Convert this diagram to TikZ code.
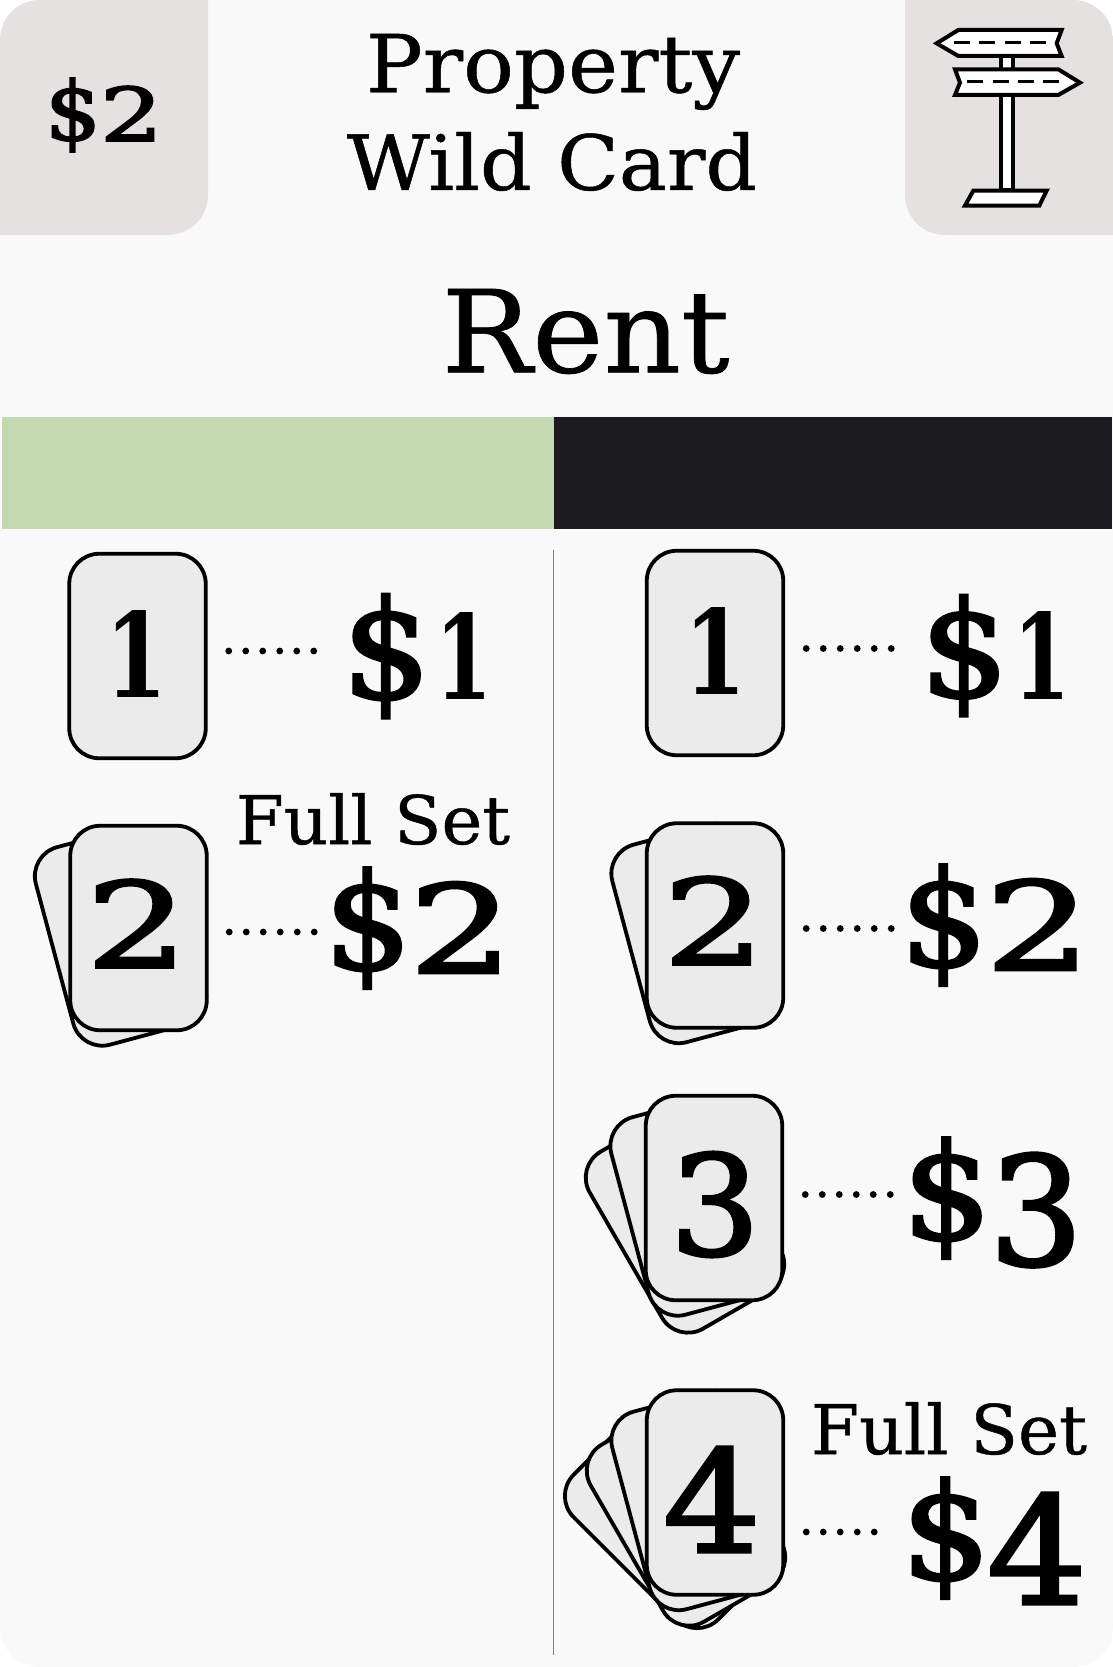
\documentclass[tikz,border=0pt]{standalone}
\usepackage{fontspec}
\setmainfont[FakeBold=0.6]{DejaVu Serif}
\newfontfamily\heavyfont[FakeBold=2.2]{DejaVu Serif}
\newfontfamily\onefont{DejaVu Serif}
\definecolor{paper}{HTML}{F9F9F9}
\definecolor{corner}{HTML}{E5E1E1}
\definecolor{cardfill}{HTML}{EBEBEB}
\definecolor{leafgreen}{HTML}{C4D8B2}
\definecolor{ink}{HTML}{1B1B1F}
\newcommand\fitt[3]{\resizebox*{#1pt}{#2pt}{#3}}
\newcommand\amt[7]{\resizebox*{#1pt}{#2pt}{\heavyfont\$}\kern#3pt\raisebox{#6pt}{\resizebox{#4pt}{#5pt}{\heavyfont #7}}}
\newcommand\digit[3]{\resizebox*{#1pt}{#2pt}{\heavyfont #3}}
\newcommand\oneglyph{{\onefont\bfseries 1}}
\tikzset{
  cardbox/.style={draw=black,line width=3.8pt,fill=cardfill,rounded corners=30pt,
    minimum width=136.5pt,minimum height=204.5pt,inner sep=0pt,outer sep=0pt},
  label/.style={inner sep=0pt,outer sep=0pt,text=black},
  amount/.style={anchor=base west,inner sep=0pt,outer sep=0pt,text=black},
  dotline/.style={line width=6.8pt,line cap=round,dash pattern=on 0pt off 17pt,draw=black},
  signline/.style={draw=black,line width=4pt,fill=white,line join=miter},
  signdash/.style={draw=black,line width=2.7pt,dash pattern=on 16pt off 9.3pt}
}
\begin{document}
\begin{tikzpicture}[x=1pt,y=-1pt]
\useasboundingbox (0,0) rectangle (1113,1667);
\fill[white] (0,0) rectangle (1113,1667);
\begin{scope}
\clip[rounded corners=40pt] (0,0) rectangle (1113,1667);
\fill[paper] (0,0) rectangle (1113,1667);
\fill[corner,rounded corners=40pt] (-60,-60) rectangle (208,235);
\fill[corner,rounded corners=40pt] (905,-60) rectangle (1173,235);
\end{scope}
\fill[leafgreen] (2,417) rectangle (554,529);
\fill[ink] (554,417) rectangle (1111.5,529);
\draw[draw=gray,line width=1pt] (553.5,550) -- (553.5,1655);

% header text
\node[amount] (price) at (45,140) {\amt{56}{74}{-1}{63}{55}{-1}{2}};
\node[label] (t1) at (553,72) {\fitt{374}{76}{Property}};
\node[label] (t2) at (552,161.5) {\fitt{410}{59}{Wild Card}};
\node[label] (rent) at (585.5,331.5) {\fitt{288}{85}{Rent}};

% sign icon
\begin{scope}[shift={(880,0)},x=0.3333pt,y=-0.3333pt]
\draw[signline] (362,160) rectangle (400,570);
\draw[signline] (170,130) -- (235,90) -- (545,90) -- (530,130) -- (545,168) -- (235,168) -- cycle;
\draw[signline] (225,208) -- (535,208) -- (600,248) -- (535,285) -- (225,285) -- (240,248) -- cycle;
\draw[signline] (280,572) -- (500,572) -- (478,617) -- (255,617) -- cycle;
\draw[signdash] (222,128) -- (505,128);
\draw[signdash] (262,245) -- (545,245);
\end{scope}

% left column
\node[cardbox] (cL1) at (137.5,656) {};
\node[label] (dL1) at (137,654) {\digit{62}{87}{\oneglyph}};
\node[amount] (aL1) at (342,698) {\amt{89}{124}{4}{57}{87}{-1}{\oneglyph}};
\draw[dotline] ([shift={(23,-5)}]cL1.east) coordinate (sL1) -- ([xshift=-23pt]sL1 -| aL1.west);

\node[cardbox,rotate=15] (cL2b) at (120.5,936) {};
\node[cardbox] (cL2) at (138.5,928) {};
\node[label] (dL2) at (137,923.5) {\digit{102}{88}{2}};
\node[amount] (aL2) at (324,969) {\amt{88}{121}{-3}{104}{91}{-4}{2}};
\draw[dotline] ([shift={(22.5,4)}]cL2.east) coordinate (sL2) -- ([xshift=-6pt]sL2 -| aL2.west);
\node[label] (fL) at (373,819) {\fitt{274}{52}{Full Set}};

% right column
\node[cardbox] (cR1) at (715,653) {};
\node[label] (dR1) at (715,651) {\digit{62}{87}{\oneglyph}};
\node[amount] (aR1) at (920,696.5) {\amt{89}{121}{4}{57}{88}{-3}{\oneglyph}};
\draw[dotline] ([shift={(23,-4.5)}]cR1.east) coordinate (sR1) -- ([xshift=-25pt]sR1 -| aR1.west);

\node[cardbox,rotate=15] (cR2b) at (697,933.5) {};
\node[cardbox] (cR2) at (715,925.5) {};
\node[label] (dR2) at (714,920.5) {\digit{102}{88}{2}};
\node[amount] (aR2) at (900,966) {\amt{88}{121}{-3}{106}{91}{-4}{2}};
\draw[dotline] ([shift={(23,3)}]cR2.east) coordinate (sR2) -- ([xshift=-5pt]sR2 -| aR2.west);

\node[cardbox,rotate=30] (cR3c) at (685,1221) {};
\node[cardbox,rotate=15] (cR3b) at (696,1206) {};
\node[cardbox] (cR3) at (714,1198) {};
\node[label] (dR3) at (715,1204.5) {\digit{90}{105}{3}};
\node[amount] (aR3) at (902,1239) {\amt{90}{121}{-3}{94}{112}{-26}{3}};
\draw[dotline] ([shift={(23,-3.5)}]cR3.east) coordinate (sR3) -- ([xshift=-7pt]sR3 -| aR3.west);

\node[cardbox,rotate=45] (cR4d) at (673,1520) {};
\node[cardbox,rotate=30] (cR4c) at (686,1514) {};
\node[cardbox,rotate=15] (cR4b) at (697,1500.5) {};
\node[cardbox] (cR4) at (715,1492.5) {};
\node[label] (dR4) at (712,1499.5) {\digit{98}{105}{4}};
\node[amount] (aR4) at (901,1579) {\amt{90}{121}{-4}{100}{111}{-25}{4}};
\draw[dotline] ([shift={(23,39.5)}]cR4.east) coordinate (sR4) -- ([xshift=-23pt]sR4 -| aR4.west);
\node[label] (fR) at (949,1428.5) {\fitt{276}{53}{Full Set}};
\end{tikzpicture}
\end{document}
